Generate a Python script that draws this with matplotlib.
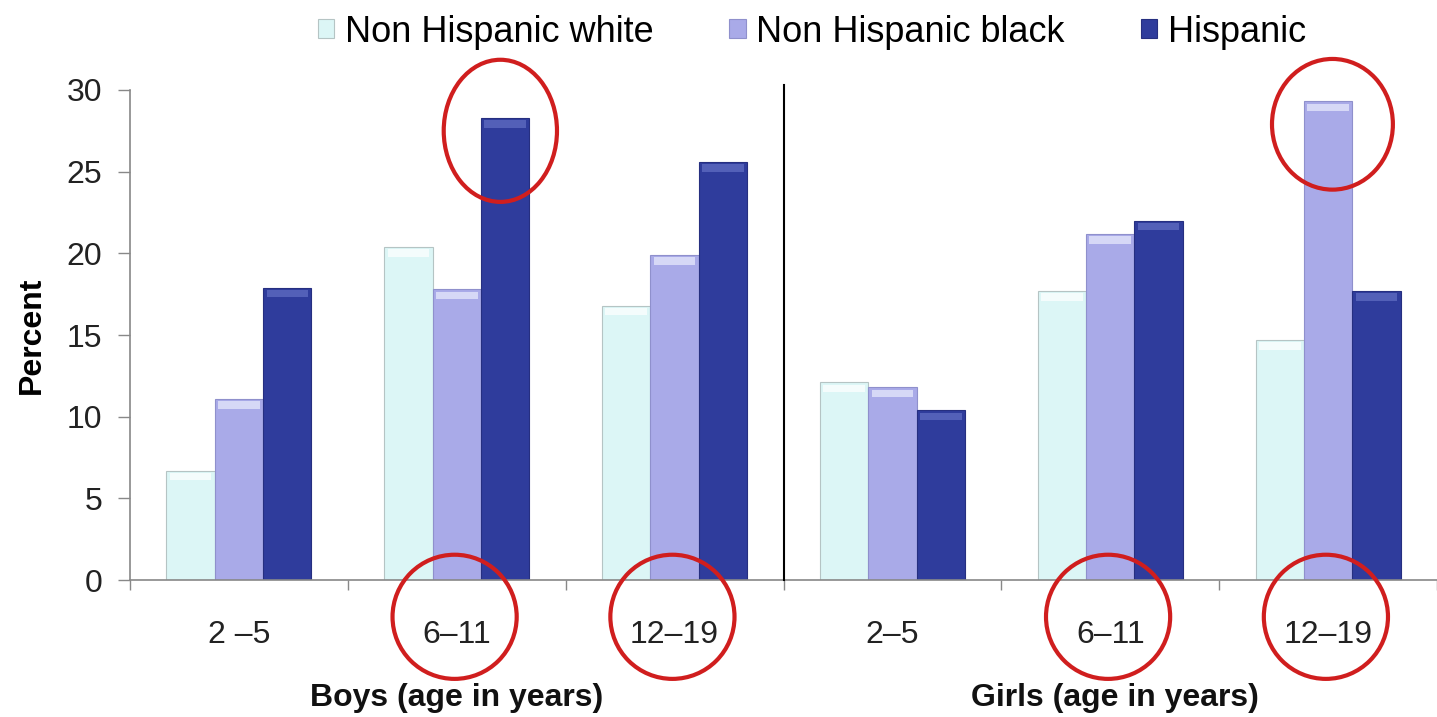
import numpy as np
import matplotlib.pyplot as plt
from matplotlib.patches import Ellipse

plt.rcParams['font.family'] = ['Liberation Sans', 'DejaVu Sans']

age_labels = ["2 \u20135", "6\u201311", "12\u201319", "2\u20135", "6\u201311", "12\u201319"]
series_names = ["Non Hispanic white", "Non Hispanic black", "Hispanic"]
white = [6.7, 20.4, 16.8, 12.1, 17.7, 14.7]
black = [11.1, 17.8, 19.9, 11.8, 21.2, 29.3]
hispanic = [17.9, 28.3, 25.6, 10.4, 22.0, 17.7]

colors = ["#dcf6f6", "#a9aae8", "#2f3c9c"]
tops = ["#f4fcfc", "#d6d8f6", "#5360b8"]
edges = ["#b5c4c4", "#8f90cc", "#262f80"]

fig = plt.figure(figsize=(14.37, 7.17), dpi=100)
ax = fig.add_axes([0.0905, 0.191, 0.9095, 0.6835])

x = np.arange(len(age_labels))
w = 0.222
for k, vals in enumerate([white, black, hispanic]):
    pos = x + (k - 1) * w
    vals = np.array(vals)
    ax.bar(pos, vals, w, color=colors[k], edgecolor=edges[k], linewidth=0.8,
           label=series_names[k], zorder=2)
    # bevel highlight on top of each bar
    ax.bar(pos, np.full_like(vals, 0.45), w * 0.86, bottom=vals - 0.6,
           color=tops[k], linewidth=0, zorder=3)

ax.set_xlim(-0.5, 5.5)
ax.set_ylim(0, 30)
ax.set_yticks(range(0, 31, 5))
ax.tick_params(axis='y', labelsize=23, length=9, width=1, color='#888888',
               pad=11, labelcolor='#222222')

# boundaries as ticks, age groups as labels
ax.set_xticks(np.arange(-0.5, 5.6, 1.0))
ax.set_xticklabels([])
ax.tick_params(axis='x', which='major', length=7, width=1, color='#888888')
ax.set_xticks(x, minor=True)
ax.set_xticklabels(age_labels, minor=True)
ax.tick_params(axis='x', which='minor', length=0, labelsize=23, pad=29,
               labelcolor='#222222')

for s in ['top', 'right']:
    ax.spines[s].set_visible(False)
for s in ['left', 'bottom']:
    ax.spines[s].set_color('#888888')
    ax.spines[s].set_linewidth(1.2)

# boys / girls divider
ax.plot([2.5, 2.5], [0, 30.3], color='black', lw=1.5, clip_on=False, zorder=4)

ax.set_ylabel("Percent", fontsize=23, fontweight='bold', labelpad=14)
ax.text(1.0, -7.2, "Boys (age in years)", ha='center', va='center',
        fontsize=23, fontweight='bold', color='#111111')
ax.text(4.02, -7.2, "Girls (age in years)", ha='center', va='center',
        fontsize=23, fontweight='bold', color='#111111')

# red highlight rings
rings = [(1.20, 27.5, 0.52, 8.7), (5.02, 27.9, 0.555, 8.0),
         (0.99, -2.25, 0.57, 7.6), (1.99, -2.25, 0.57, 7.6),
         (3.99, -2.25, 0.57, 7.6), (4.99, -2.25, 0.57, 7.6)]
for cx, cy, ew, eh in rings:
    ax.add_patch(Ellipse((cx, cy), ew, eh, fill=False, edgecolor='#d01e1e',
                         lw=3, clip_on=False, zorder=5))

handles, labels = ax.get_legend_handles_labels()
fig.legend(handles, labels, loc='upper center', bbox_to_anchor=(0.565, 1.025),
           ncol=3, frameon=False, fontsize=26, handlelength=0.45,
           handleheight=0.45, handletextpad=0.3, columnspacing=2.1)

fig.savefig("out.png", dpi=100)
